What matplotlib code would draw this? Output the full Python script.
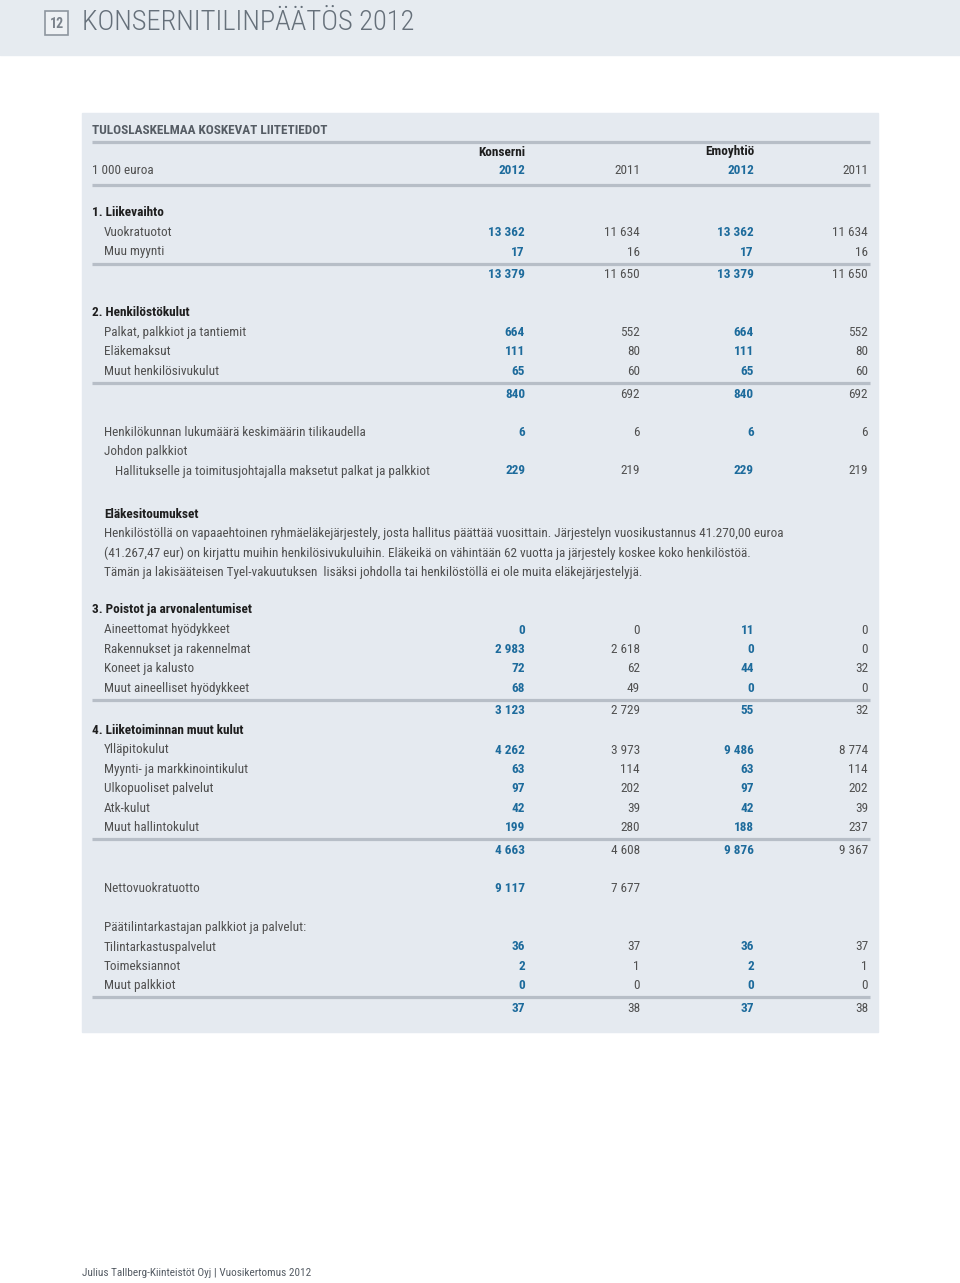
import matplotlib
matplotlib.use("Agg")
import matplotlib.pyplot as plt
from matplotlib import font_manager
from matplotlib.patches import Rectangle

# ---------------- data ----------------
col_groups = ["Konserni", "Emoyhtiö"]
col_years = ["2012", "2011", "2012", "2011"]

liikevaihto_labels = ["Vuokratuotot", "Muu myynti"]
liikevaihto_values = [[13362, 11634, 13362, 11634], [17, 16, 17, 16]]
liikevaihto_total = [13379, 11650, 13379, 11650]

henkilo_labels = ["Palkat, palkkiot ja tantiemit", "Eläkemaksut", "Muut henkilösivukulut"]
henkilo_values = [[664, 552, 664, 552], [111, 80, 111, 80], [65, 60, 65, 60]]
henkilo_total = [840, 692, 840, 692]

lukumaara_label = "Henkilökunnan lukumäärä keskimäärin tilikaudella"
lukumaara_values = [6, 6, 6, 6]
johto_label = "Johdon palkkiot"
johto_sub_label = "Hallitukselle ja toimitusjohtajalla maksetut palkat ja palkkiot"
johto_values = [229, 219, 229, 219]

elake_title = "Eläkesitoumukset"
elake_lines = [
    "Henkilöstöllä on vapaaehtoinen ryhmäeläkejärjestely, josta hallitus päättää vuosittain. Järjestelyn vuosikustannus 41.270,00 euroa",
    "(41.267,47 eur) on kirjattu muihin henkilösivukuluihin. Eläkeikä on vähintään 62 vuotta ja järjestely koskee koko henkilöstöä.",
    "Tämän ja lakisääteisen Tyel-vakuutuksen  lisäksi johdolla tai henkilöstöllä ei ole muita eläkejärjestelyjä.",
]

poisto_labels = ["Aineettomat hyödykkeet", "Rakennukset ja rakennelmat", "Koneet ja kalusto", "Muut aineelliset hyödykkeet"]
poisto_values = [[0, 0, 11, 0], [2983, 2618, 0, 0], [72, 62, 44, 32], [68, 49, 0, 0]]
poisto_total = [3123, 2729, 55, 32]

kulut_labels = ["Ylläpitokulut", "Myynti- ja markkinointikulut", "Ulkopuoliset palvelut", "Atk-kulut", "Muut hallintokulut"]
kulut_values = [[4262, 3973, 9486, 8774], [63, 114, 63, 114], [97, 202, 97, 202], [42, 39, 42, 39], [199, 280, 188, 237]]
kulut_total = [4663, 4608, 9876, 9367]

netto_label = "Nettovuokratuotto"
netto_values = [9117, 7677, None, None]

tilintark_title = "Päätilintarkastajan palkkiot ja palvelut:"
tilintark_labels = ["Tilintarkastuspalvelut", "Toimeksiannot", "Muut palkkiot"]
tilintark_values = [[36, 37, 36, 37], [2, 1, 2, 1], [0, 0, 0, 0]]
tilintark_total = [37, 38, 37, 38]

# ---------------- fonts ----------------
names = {f.name for f in font_manager.fontManager.ttflist}
prefs = ["Roboto Condensed", "Archivo Narrow", "Fira Sans Condensed", "Barlow Semi Condensed",
         "Liberation Sans Narrow"]
FAM = next((p for p in prefs if p in names), None)
STRETCH = "normal"
if FAM is None:
    FAM = "DejaVu Sans"
    STRETCH = "condensed"
FAMILY = [FAM, "DejaVu Sans"]

# ---------------- style ----------------
BLUE = "#1d6b9c"
GREY = "#505050"
DARK = "#1e1e1e"
PANEL = "#e5eaf0"
RULE = "#b7bec7"

fig = plt.figure(figsize=(9.6, 12.83), dpi=100)
ax = fig.add_axes([0, 0, 1, 1])
ax.set_xlim(0, 960)
ax.set_ylim(1283, 0)
ax.axis("off")
renderer = fig.canvas.get_renderer()


def fit_size(s, target_px, weight="normal", base=10.0):
    t = ax.text(0, 0, s, fontsize=base, family=FAMILY, fontweight=weight, fontstretch=STRETCH)
    w = t.get_window_extent(renderer).width
    t.remove()
    return base * target_px / w


FS = fit_size(johto_sub_label, 313)
FS_TITLE = fit_size("KONSERNITILINPÄÄTÖS 2012", 334, weight="light", base=24)
FS_FOOT = fit_size("Julius Tallberg-Kiinteistöt Oyj | Vuosikertomus 2012", 228)

# header band
ax.add_patch(Rectangle((0, 0), 960, 55, color="#e6ebf0", zorder=0))
ax.add_patch(Rectangle((45, 11), 23, 24, facecolor="#eef1f4", edgecolor="#8e969f", lw=1.2, zorder=1))
ax.text(56.5, 23.5, "12", ha="center", va="center", fontsize=FS * 1.05, fontweight="bold",
        color="#7b838c", family=FAMILY, fontstretch=STRETCH)
ax.text(82, 23, "KONSERNITILINPÄÄTÖS 2012", ha="left", va="center", fontsize=FS_TITLE,
        color="#66707a", family=FAMILY, fontweight="light", fontstretch=STRETCH)

# panel
ax.add_patch(Rectangle((82, 113), 796, 919, color=PANEL, zorder=0))

COLX = [525, 640, 754, 868]
LX0, LX1, LX2 = 92, 104, 115


def rule(y):
    ax.plot([92, 870], [y, y], color=RULE, lw=2.3, solid_capstyle="butt", zorder=1)


def fmt(v):
    return f"{v:,}".replace(",", " ")


def txt(x, y, s, ha="left", color=GREY, bold=False, size=None):
    ax.text(x, y, s, ha=ha, va="center", fontsize=size or FS, family=FAMILY,
            fontstretch=STRETCH, color=color, fontweight="bold" if bold else "normal")


def values(y, vals):
    for i, (x, v) in enumerate(zip(COLX, vals)):
        if v is None:
            continue
        bold = i % 2 == 0
        txt(x, y, fmt(v), ha="right", color=BLUE if bold else GREY, bold=bold)


def label(y, s, x=LX1, bold=False):
    txt(x, y, s, color=DARK if bold else GREY, bold=bold)


STEP = 19.4

txt(LX0, 130, "TULOSLASKELMAA KOSKEVAT LIITETIEDOT", color="#555c64", bold=True)
rule(141.5)
txt(525, 152, col_groups[0], ha="right", color=DARK, bold=True)
txt(754, 152, col_groups[1], ha="right", color=DARK, bold=True)
label(171, "1 000 euroa", x=LX0)
for i, (x, yr) in enumerate(zip(COLX, col_years)):
    bold = i % 2 == 0
    txt(x, 171, yr, ha="right", color=BLUE if bold else GREY, bold=bold)
rule(185)

# 1
label(213, "1. Liikevaihto", x=LX0, bold=True)
y = 232
for lab, vals in zip(liikevaihto_labels, liikevaihto_values):
    label(y, lab)
    values(y, vals)
    y += STEP + 0.6
rule(263.5)
values(274, liikevaihto_total)

# 2
label(313, "2. Henkilöstökulut", x=LX0, bold=True)
y = 332.5
for lab, vals in zip(henkilo_labels, henkilo_values):
    label(y, lab)
    values(y, vals)
    y += STEP
rule(383)
values(394, henkilo_total)

label(433, lukumaara_label)
values(433, lukumaara_values)
label(452, johto_label)
label(471, johto_sub_label, x=LX2)
values(471, johto_values)

label(514, elake_title, bold=True)
for k, line in enumerate(elake_lines):
    label(533.5 + k * 19.5, line)

# 3
label(610, "3. Poistot ja arvonalentumiset", x=LX0, bold=True)
y = 630
for lab, vals in zip(poisto_labels, poisto_values):
    label(y, lab)
    values(y, vals)
    y += STEP
rule(700)
values(711, poisto_total)

# 4
label(730.5, "4. Liiketoiminnan muut kulut", x=LX0, bold=True)
y = 750
for lab, vals in zip(kulut_labels, kulut_values):
    label(y, lab)
    values(y, vals)
    y += STEP
rule(839)
values(850, kulut_total)

label(889, netto_label)
values(889, netto_values)

label(927.5, tilintark_title)
y = 947
for lab, vals in zip(tilintark_labels, tilintark_values):
    label(y, lab)
    values(y, vals)
    y += STEP
rule(997)
values(1008, tilintark_total)

txt(82, 1273, "Julius Tallberg-Kiinteistöt Oyj | Vuosikertomus 2012", color="#555c64", size=FS_FOOT)

fig.savefig("out.png", dpi=100)
